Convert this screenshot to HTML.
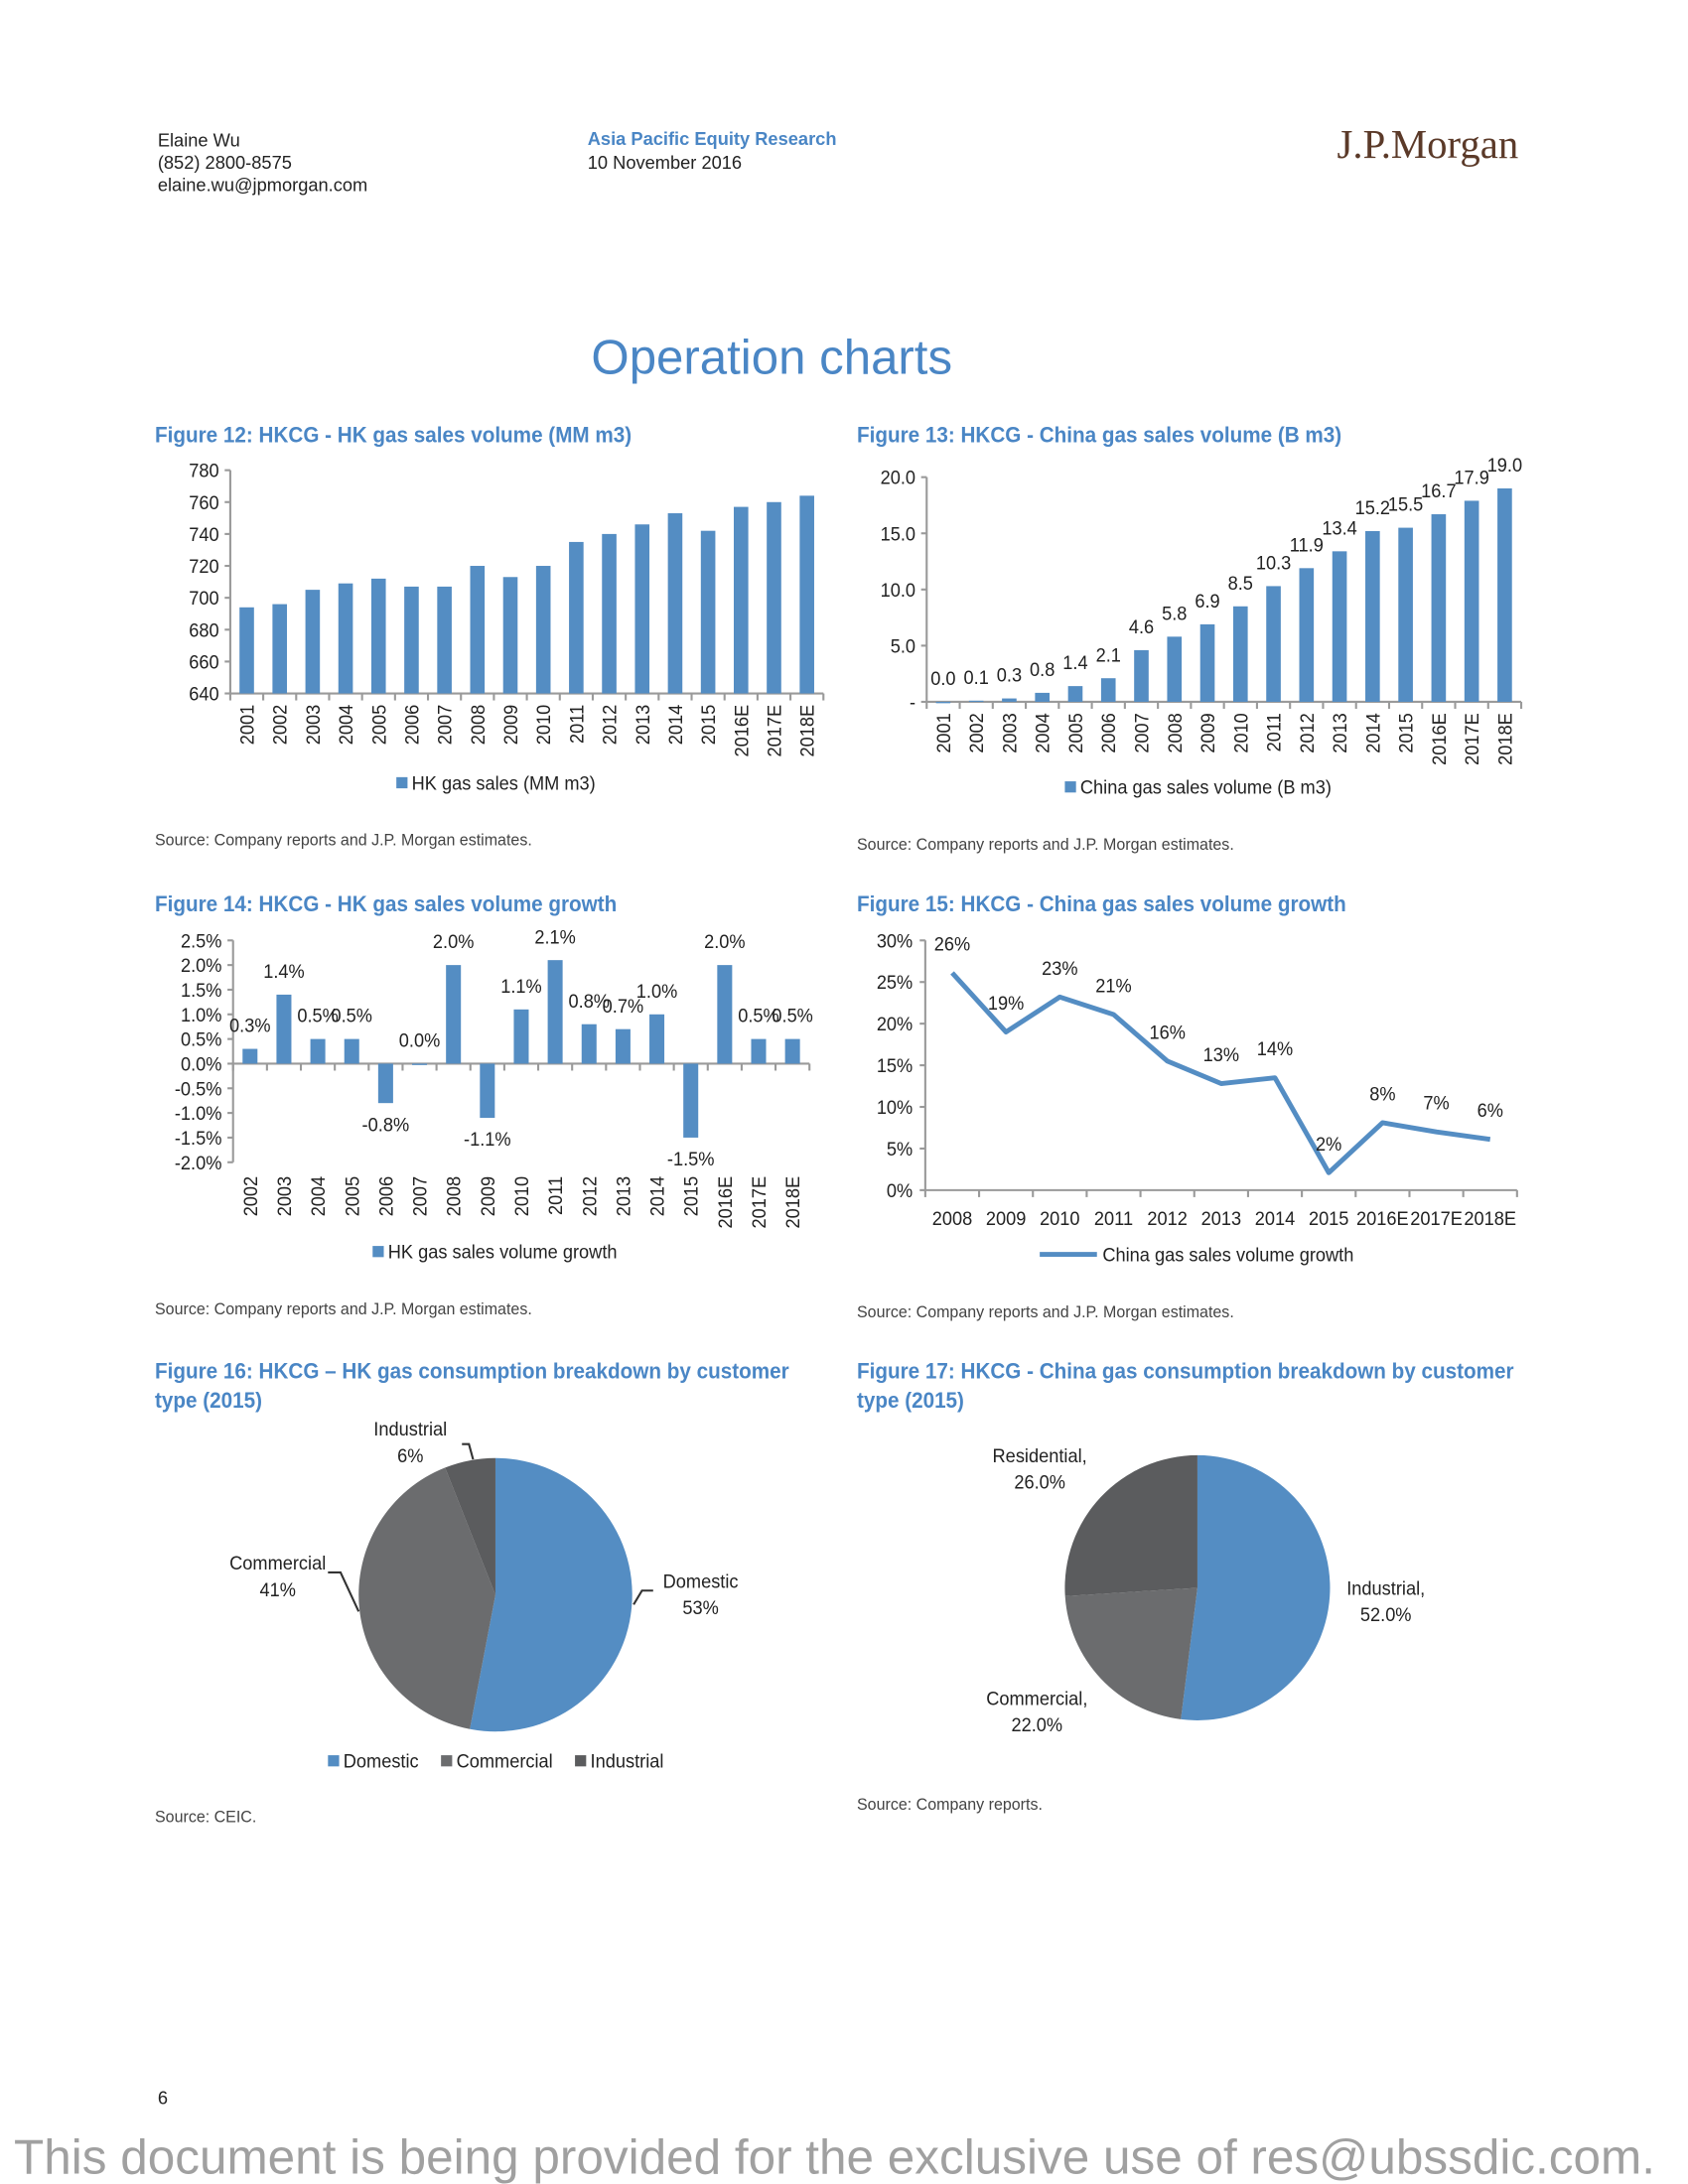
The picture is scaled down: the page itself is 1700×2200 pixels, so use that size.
<!DOCTYPE html>
<html><head><meta charset="utf-8">
<style>
html,body{margin:0;padding:0;background:#fff;}
svg{display:block;}
text{font-family:"Liberation Sans Narrow","Liberation Sans",sans-serif;}
.hd{font-family:"Liberation Sans",sans-serif;font-size:13px;fill:#222;}
.ft{font-family:"Liberation Sans",sans-serif;font-size:16px;font-weight:bold;fill:#4a86c5;}
.tk{font-size:13.5px;fill:#222;}
.src{font-size:12px;fill:#444;}
</style></head>
<body>
<svg id="page" width="1700" height="2200" viewBox="0 0 1209.5 1565.3" preserveAspectRatio="none">
<g>
<text class="hd" x="113" y="105">Elaine Wu</text>
<text class="hd" x="113" y="121">(852) 2800-8575</text>
<text class="hd" x="113" y="137">elaine.wu@jpmorgan.com</text>
<text class="hd" x="421" y="104" style="fill:#4a86c5;font-weight:bold">Asia Pacific Equity Research</text>
<text class="hd" x="421" y="121">10 November 2016</text>
<text x="1088" y="113" text-anchor="end" style="font-family:'Liberation Serif',serif;font-size:29px;fill:#5b3a29">J.P.Morgan</text>
</g>
<text x="553" y="268" text-anchor="middle" style="font-family:'Liberation Sans',sans-serif;font-size:35px;fill:#4a86c5">Operation charts</text>

<text class="ft" x="111" y="317">Figure 12: HKCG - HK gas sales volume (MM m3)</text>
<g id="c12"></g>
<text class="src" x="111" y="606">Source: Company reports and J.P. Morgan estimates.</text>

<text class="ft" x="614" y="317">Figure 13: HKCG - China gas sales volume (B m3)</text>
<g id="c13"></g>
<text class="src" x="614" y="609">Source: Company reports and J.P. Morgan estimates.</text>

<text class="ft" x="111" y="653">Figure 14: HKCG - HK gas sales volume growth</text>
<g id="c14"></g>
<text class="src" x="111" y="942">Source: Company reports and J.P. Morgan estimates.</text>

<text class="ft" x="614" y="653">Figure 15: HKCG - China gas sales volume growth</text>
<g id="c15"></g>
<text class="src" x="614" y="944">Source: Company reports and J.P. Morgan estimates.</text>

<text class="ft" x="111" y="988">Figure 16: HKCG – HK gas consumption breakdown by customer</text>
<text class="ft" x="111" y="1009">type (2015)</text>
<g id="c16"></g>
<text class="src" x="111" y="1306">Source: CEIC.</text>

<text class="ft" x="614" y="988">Figure 17: HKCG - China gas consumption breakdown by customer</text>
<text class="ft" x="614" y="1009">type (2015)</text>
<g id="c17"></g>
<text class="src" x="614" y="1297">Source: Company reports.</text>

<text class="hd" x="113" y="1508">6</text>
<text x="598" y="1558" text-anchor="middle" textLength="1176" lengthAdjust="spacingAndGlyphs" style="font-family:'Liberation Sans',sans-serif;font-size:35px;fill:#a0a0a0">This document is being provided for the exclusive use of res@ubssdic.com.</text>
</svg>
<script>
// Figure 12 data
const cats12 = ["2001","2002","2003","2004","2005","2006","2007","2008","2009","2010","2011","2012","2013","2014","2015","2016E","2017E","2018E"];
const vals12 = [694,696,705,709,712,707,707,720,713,720,735,740,746,753,742,757,760,764];
const ticks12 = [640,660,680,700,720,740,760,780];
// Figure 13 data
const cats13 = ["2001","2002","2003","2004","2005","2006","2007","2008","2009","2010","2011","2012","2013","2014","2015","2016E","2017E","2018E"];
const vals13 = [0.0,0.1,0.3,0.8,1.4,2.1,4.6,5.8,6.9,8.5,10.3,11.9,13.4,15.2,15.5,16.7,17.9,19.0];
const ticks13 = [0,5,10,15,20];
const tickLabels13 = ["-","5.0","10.0","15.0","20.0"];
// Figure 14 data
const cats14 = ["2002","2003","2004","2005","2006","2007","2008","2009","2010","2011","2012","2013","2014","2015","2016E","2017E","2018E"];
const vals14 = [0.3,1.4,0.5,0.5,-0.8,0.0,2.0,-1.1,1.1,2.1,0.8,0.7,1.0,-1.5,2.0,0.5,0.5];
const ticks14 = [-2.0,-1.5,-1.0,-0.5,0.0,0.5,1.0,1.5,2.0,2.5];
// Figure 15 data
const cats15 = ["2008","2009","2010","2011","2012","2013","2014","2015","2016E","2017E","2018E"];
const vals15 = [26.1,19.0,23.2,21.1,15.5,12.8,13.5,2.1,8.1,7.0,6.1];
const ticks15 = [0,5,10,15,20,25,30];
// Pie data
const labels16 = ["Domestic","Commercial","Industrial"];
const vals16 = [53,41,6];
const labels17 = ["Industrial","Commercial","Residential"];
const vals17 = [52.0,22.0,26.0];

const NS="http://www.w3.org/2000/svg";
const BLUE="#548dc3", AX="#9a9a9a";
function mk(parent,tag,attrs,txt){const e=document.createElementNS(NS,tag);for(const k in attrs)e.setAttribute(k,attrs[k]);if(txt!==undefined)e.textContent=txt;parent.appendChild(e);return e;}

function barChart(g,o){
  const n=o.cats.length, step=(o.x1-o.x0)/n, bw=step*0.44;
  const y=v=>o.yb-(v-o.min)/(o.max-o.min)*(o.yb-o.yt);
  const yz=y(o.base);
  const ya=mk(g,"line",{x1:o.x0,y1:o.yt,x2:o.x0,y2:o.yb,stroke:AX,"stroke-width":1.5});
  
  
  o.ticks.forEach((t,i)=>{
    mk(g,"line",{x1:o.x0-4,y1:y(t),x2:o.x0,y2:y(t),stroke:AX,"stroke-width":1.5});
    const tl=mk(g,"text",{x:o.x0-8,y:y(t)+5,"text-anchor":"end",class:"tk"},o.tickLabels?o.tickLabels[i]:o.fmtTick(t));
    
    
  });
  const xa=mk(g,"line",{x1:o.x0,y1:yz,x2:o.x1,y2:yz,stroke:AX,"stroke-width":1.5});
  
  
  for(let i=0;i<=n;i++)mk(g,"line",{x1:o.x0+i*step,y1:yz,x2:o.x0+i*step,y2:yz+5,stroke:AX,"stroke-width":1.5});
  o.cats.forEach((c,i)=>{
    const cx=o.x0+step*(i+0.5), v=o.vals[i];
    const top=Math.min(y(v),yz), h=Math.max(Math.abs(y(v)-yz),v===0?1:0);
    const b=mk(g,"rect",{x:cx-bw/2,y:top,width:bw,height:h,fill:BLUE});
    
    
    const lx=cx+5, ly=o.labelY;
    const t=mk(g,"text",{x:lx,y:ly,"text-anchor":"end",class:"tk",transform:`rotate(-90 ${lx} ${ly})`},c);
    
    
    if(o.valLabel){
      const vy=v>=0?y(v)-o.vgap:y(v)+o.vgapNeg;
      const vt=mk(g,"text",{x:cx,y:vy,"text-anchor":"middle",class:"tk"},o.valLabel(v));
      
      
    }
  });
  const lg=mk(g,"g",{});
  
  
  mk(lg,"rect",{x:o.legX,y:o.legY-9,width:8,height:8,fill:BLUE});
  mk(lg,"text",{x:o.legX+11,y:o.legY,class:"tk"},o.legend);
}

barChart(document.getElementById("c12"),{cats:cats12,vals:vals12,ticks:ticks12,min:640,max:780,base:640,
  x0:165,x1:590,yt:337,yb:497,fmtTick:t=>String(t),labelY:505,legX:284,legY:566,legend:"HK gas sales (MM m3)"});
barChart(document.getElementById("c13"),{cats:cats13,vals:vals13,ticks:ticks13,tickLabels:tickLabels13,min:0,max:20,base:0,
  x0:664,x1:1090,yt:342,yb:503,labelY:511,legX:763,legY:569,legend:"China gas sales volume (B m3)",
  valLabel:v=>v.toFixed(1),vgap:12,vgapNeg:14});
barChart(document.getElementById("c14"),{cats:cats14,vals:vals14,ticks:ticks14,min:-2.0,max:2.5,base:0,
  x0:167,x1:580,yt:674,yb:833,fmtTick:t=>t.toFixed(1)+"%",labelY:843,legX:267,legY:902,legend:"HK gas sales volume growth",
  valLabel:v=>v.toFixed(1)+"%",vgap:12,vgapNeg:20});

(function(){
  const g=document.getElementById("c15");
  const x0=663,x1=1087,yt=674,yb=853, n=cats15.length, step=(x1-x0)/n;
  const y=v=>yb-v/30*(yb-yt), x=i=>x0+step*(i+0.5);
  const ya=mk(g,"line",{x1:x0,y1:yt,x2:x0,y2:yb,stroke:AX,"stroke-width":1.5});
  
  
  ticks15.forEach(t=>{
    mk(g,"line",{x1:x0-4,y1:y(t),x2:x0,y2:y(t),stroke:AX,"stroke-width":1.5});
    const tl=mk(g,"text",{x:x0-9,y:y(t)+5,"text-anchor":"end",class:"tk"},t+"%");
    
    
  });
  const xa=mk(g,"line",{x1:x0,y1:yb,x2:x1,y2:yb,stroke:AX,"stroke-width":1.5});
  
  
  for(let i=0;i<=n;i++)mk(g,"line",{x1:x0+i*step,y1:yb,x2:x0+i*step,y2:yb+5,stroke:AX,"stroke-width":1.5});
  const pts=vals15.map((v,i)=>x(i)+","+y(v)).join(" ");
  const pl=mk(g,"polyline",{points:pts,fill:"none",stroke:BLUE,"stroke-width":3.5,"stroke-linejoin":"round"});
  
  
  cats15.forEach((c,i)=>{
    const t=mk(g,"text",{x:x(i),y:yb+25,"text-anchor":"middle",class:"tk"},c);
    
    
    const vt=mk(g,"text",{x:x(i),y:y(vals15[i])-16,"text-anchor":"middle",class:"tk"},Math.round(vals15[i])+"%");
    
    
  });
  const lg=mk(g,"g",{});
  
  
  mk(lg,"line",{x1:745,y1:899,x2:786,y2:899,stroke:BLUE,"stroke-width":3.5});
  mk(lg,"text",{x:790,y:904,class:"tk"},"China gas sales volume growth");
})();

function pie(g,cx,cy,r,labels,vals,colors,lbl){
  const tot=vals.reduce((a,b)=>a+b,0); let a0=0;
  vals.forEach((v,i)=>{
    const a1=a0+v/tot*2*Math.PI;
    const p=(a)=>[cx+r*Math.sin(a),cy-r*Math.cos(a)];
    const [sx,sy]=p(a0),[ex,ey]=p(a1);
    const s=mk(g,"path",{d:`M${cx},${cy} L${sx},${sy} A${r},${r} 0 ${a1-a0>Math.PI?1:0} 1 ${ex},${ey} Z`,fill:colors[i]});
    
    
    a0=a1;
  });
  lbl.forEach((L,i)=>{
    const t1=mk(g,"text",{x:L[0],y:L[1],"text-anchor":"middle",class:"tk"},L[2]);
    
    
    const t2=mk(g,"text",{x:L[0],y:L[1]+19,"text-anchor":"middle",class:"tk"},L[3]);
    
    
  });
}
const g16=document.getElementById("c16");
pie(g16,355,1143,98,labels16,vals16,[BLUE,"#6b6c6e","#5b5c5e"],
  [[502,1138,labels16[0],vals16[0]+"%"],[199,1125,labels16[1],vals16[1]+"%"],[294,1029,labels16[2],vals16[2]+"%"]]);
mk(g16,"polyline",{points:"454,1150 460,1140 468,1140",fill:"none",stroke:"#333","stroke-width":1.5});
mk(g16,"polyline",{points:"235,1127 244,1127 257,1155",fill:"none",stroke:"#333","stroke-width":1.5});
mk(g16,"polyline",{points:"331,1035 336,1035 339,1046",fill:"none",stroke:"#333","stroke-width":1.5});
[["Domestic",BLUE,235],["Commercial","#6b6c6e",316],["Industrial","#5b5c5e",412]].forEach(e=>{
  const lg=mk(g16,"g",{});
  
  
  mk(lg,"rect",{x:e[2],y:1258,width:8,height:8,fill:e[1]});
  mk(lg,"text",{x:e[2]+11,y:1267,class:"tk"},e[0]);
});
const g17=document.getElementById("c17");
pie(g17,858,1138,95,labels17,vals17,[BLUE,"#6b6c6e","#5b5c5e"],
  [[993,1143,labels17[0]+",",vals17[0].toFixed(1)+"%"],[743,1222,labels17[1]+",",vals17[1].toFixed(1)+"%"],[745,1048,labels17[2]+",",vals17[2].toFixed(1)+"%"]]);

const squeeze={ft:0.92,src:0.95,tk:0.96};
document.querySelectorAll("text").forEach(t=>{
  const f=squeeze[t.getAttribute("class")];
  if(!f)return;
  const w=t.getComputedTextLength();
  if(w>0){t.setAttribute("textLength",(w*f).toFixed(1));t.setAttribute("lengthAdjust","spacingAndGlyphs");}
});
</script>
</body></html>
